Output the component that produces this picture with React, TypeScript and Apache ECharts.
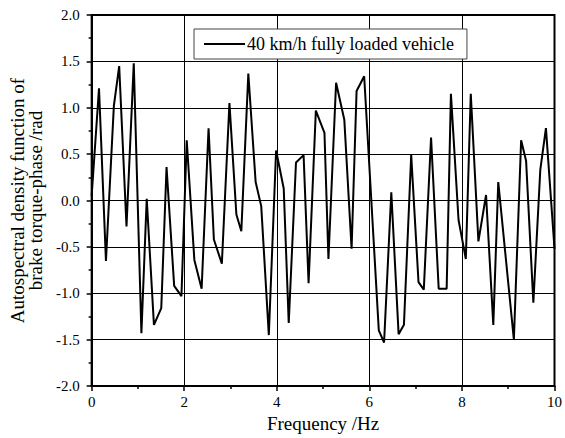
import React, { useEffect, useRef } from "react";
import * as echarts from "echarts";

const frequency = [0, 0.159, 0.309, 0.48, 0.595, 0.753, 0.91, 1.075, 1.19, 1.346, 1.504, 1.618, 1.783, 1.94, 2.054, 2.219, 2.376, 2.526, 2.641, 2.813, 2.977, 3.127, 3.234, 3.385, 3.543, 3.664, 3.828, 3.985, 4.15, 4.258, 4.415, 4.579, 4.687, 4.844, 5.03, 5.116, 5.281, 5.459, 5.616, 5.724, 5.888, 6.204, 6.318, 6.474, 6.632, 6.747, 6.904, 7.062, 7.176, 7.333, 7.498, 7.67, 7.762, 7.927, 8.084, 8.191, 8.356, 8.521, 8.678, 8.785, 9.122, 9.279, 9.386, 9.543, 9.693, 9.815, 10];
const phaseValues = [0.05, 1.21, -0.65, 1.02, 1.45, -0.28, 1.48, -1.43, 0.02, -1.34, -1.16, 0.36, -0.92, -1.03, 0.65, -0.64, -0.95, 0.78, -0.42, -0.68, 1.05, -0.15, -0.33, 1.37, 0.2, -0.06, -1.45, 0.54, 0.13, -1.32, 0.41, 0.49, -0.89, 0.97, 0.73, -0.63, 1.27, 0.87, -0.52, 1.18, 1.34, -1.4, -1.53, 0.09, -1.44, -1.34, 0.49, -0.88, -0.96, 0.68, -0.95, -0.95, 1.15, -0.21, -0.63, 1.15, -0.44, 0.06, -1.34, 0.2, -1.5, 0.65, 0.43, -1.1, 0.33, 0.78, -0.52];
const seriesName = "40 km/h fully loaded vehicle";
const xTitle = "Frequency /Hz";
const yTitle = "Autospectral density function of\nbrake torque-phase /rad";

const FONT = "'Liberation Serif', 'Times New Roman', serif";

export default function App() {
  const ref = useRef<HTMLDivElement>(null);
  useEffect(() => {
    if (!ref.current) return;
    const chart = echarts.init(ref.current, undefined, { renderer: "svg" });
    const data = frequency.map((f, i) => [f, phaseValues[i]]);
    chart.setOption({
      animation: false,
      backgroundColor: "#fff",
      textStyle: { fontFamily: FONT, color: "#000" },
      grid: {
        left: 91.6,
        right: 7.3,
        top: 15,
        bottom: 45,
        show: true,
        borderColor: "#000",
        borderWidth: 2,
      },
      legend: {
        left: 194,
        top: 29,
        data: [{ name: seriesName, icon: "rect" }],
        backgroundColor: "#fff",
        borderColor: "#444",
        borderWidth: 1,
        padding: [6, 13, 6, 10],
        itemWidth: 41,
        itemHeight: 2,
        itemGap: 4,
        itemStyle: { color: "#000" },
        textStyle: { fontFamily: FONT, fontSize: 18, color: "#000", padding: [0, 0, 0, -3] },
      },
      xAxis: {
        type: "value",
        min: 0,
        max: 10,
        interval: 2,
        name: xTitle,
        nameLocation: "middle",
        nameGap: 22,
        nameTextStyle: { fontFamily: FONT, fontSize: 19, color: "#000" },
        axisLine: { show: true, onZero: false, lineStyle: { color: "#000", width: 2 } },
        axisTick: { show: true, inside: false, length: 5, lineStyle: { color: "#000", width: 1.5 } },
        minorTick: { show: true, splitNumber: 2, length: 3, lineStyle: { color: "#000", width: 1.5 } },
        splitLine: { show: true, lineStyle: { color: "#000", width: 1 } },
        axisLabel: { fontFamily: FONT, fontSize: 15, color: "#000", margin: 8 },
      },
      yAxis: {
        type: "value",
        min: -2,
        max: 2,
        interval: 0.5,
        name: yTitle,
        nameLocation: "middle",
        nameGap: 46,
        nameRotate: 90,
        nameTextStyle: { fontFamily: FONT, fontSize: 19, color: "#000", lineHeight: 18 },
        axisLine: { show: true, onZero: false, lineStyle: { color: "#000", width: 2 } },
        axisTick: { show: true, inside: false, length: 5, lineStyle: { color: "#000", width: 1.5 } },
        minorTick: { show: true, splitNumber: 2, length: 3, lineStyle: { color: "#000", width: 1.5 } },
        splitLine: { show: true, lineStyle: { color: "#000", width: 1 } },
        axisLabel: {
          fontFamily: FONT,
          fontSize: 15,
          color: "#000",
          margin: 12,
          formatter: (v: number) => v.toFixed(1),
        },
      },
      series: [
        {
          name: seriesName,
          type: "line",
          data,
          symbol: "none",
          lineStyle: { color: "#000", width: 2 },
          itemStyle: { color: "#000" },
        },
      ],
    });
    return () => chart.dispose();
  }, []);
  return (
    <div
      ref={ref}
      style={{ position: "absolute", left: 0, top: 0, width: 565, height: 438 }}
    />
  );
}
